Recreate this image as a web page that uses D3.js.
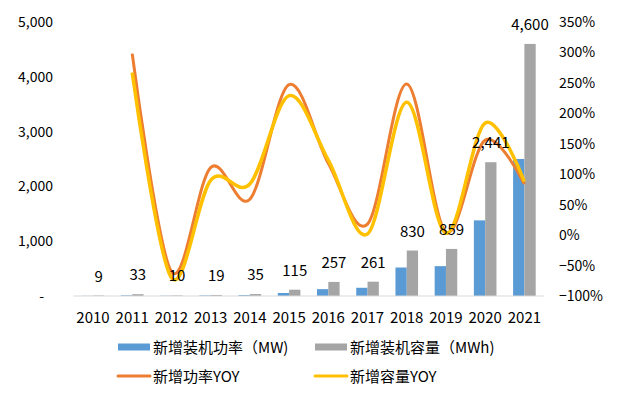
<!DOCTYPE html>
<html>
<head>
<meta charset="utf-8">
<script src="https://cdn.jsdelivr.net/npm/d3@7"></script>
<style>
  body { margin: 0; background: #fff; }
  text { font-family: "Noto Sans CJK SC", "Microsoft YaHei", sans-serif; fill: #000; }
</style>
</head>
<body>
<div class="svg-container"></div>
<script>
// values
const years = ["2010", "2011", "2012", "2013", "2014", "2015", "2016", "2017", "2018", "2019", "2020", "2021"];
const powerMW = [3, 12, 5, 10, 16, 55, 125, 150, 520, 545, 1380, 2500];
const capacityMWh = [9, 33, 10, 19, 35, 115, 257, 261, 830, 859, 2441, 4600];
const powerYoy = [null, 2.98, -0.60, 1.11, 0.59, 2.47, 1.18, 0.18, 2.48, 0.05, 1.56, 0.84];
const capacityYoy = [null, 2.67, -0.70, 0.90, 0.84, 2.29, 1.23, 0.02, 2.18, 0.03, 1.84, 0.88];
const leftTicks = [0, 1000, 2000, 3000, 4000, 5000];
const rightTicks = [-1, -0.5, 0, 0.5, 1, 1.5, 2, 2.5, 3, 3.5];
const seriesNames = ["新增装机功率（MW)", "新增装机容量（MWh)", "新增功率YOY", "新增容量YOY"];

const width = 627, height = 399;
const margin = {top: 22, bottom: 103, left: 73.4, right: 83};
const colors = {blue: "#5B9BD5", gray: "#A5A5A5", orange: "#ED7D31", yellow: "#FFC000"};

const svg = d3.select(".svg-container").append("svg")
  .attr("width", width)
  .attr("height", height);

const x = d3.scaleBand().domain(years).range([margin.left, width - margin.right]);
const y = d3.scaleLinear().domain([0, 5000]).range([height - margin.bottom, margin.top]);
const y2 = d3.scaleLinear().domain([-1, 3.5]).range([height - margin.bottom, margin.top]);
const barW = 11.3;

// bars
svg.append("g").selectAll("rect")
  .data(years)
  .join("rect")
  .attr("x", (d, i) => x(d) + x.bandwidth() / 2 - barW)
  .attr("y", (d, i) => y(powerMW[i]))
  .attr("width", barW)
  .attr("height", (d, i) => y(0) - y(powerMW[i]))
  .style("fill", colors.blue);

svg.append("g").selectAll("rect")
  .data(years)
  .join("rect")
  .attr("x", (d, i) => x(d) + x.bandwidth() / 2)
  .attr("y", (d, i) => y(capacityMWh[i]))
  .attr("width", barW)
  .attr("height", (d, i) => y(0) - y(capacityMWh[i]))
  .style("fill", colors.gray);

// baseline
svg.append("line")
  .attr("x1", margin.left).attr("x2", width - margin.right)
  .attr("y1", y(0)).attr("y2", y(0))
  .style("stroke", "#d9d9d9")
  .style("stroke-width", 1);

// left axis
svg.append("g").selectAll("text")
  .data(leftTicks)
  .join("text")
  .attr("x", d => d === 0 ? 44 : 53)
  .attr("y", d => y(d) + 5)
  .style("text-anchor", "end")
  .style("font-size", "14px")
  .text(d => d === 0 ? "-" : d3.format(",")(d));

// right axis
svg.append("g").selectAll("text")
  .data(rightTicks)
  .join("text")
  .attr("x", 559)
  .attr("y", d => y2(d) + 5)
  .style("font-size", "14px")
  .text(d => d3.format(".0%")(d));

// category labels
svg.append("g").selectAll("text")
  .data(years)
  .join("text")
  .attr("x", d => x(d) + x.bandwidth() / 2)
  .attr("y", height - margin.bottom + 27)
  .style("text-anchor", "middle")
  .style("font-size", "15px")
  .text(d => d);

// YOY lines
const line = yoy => d3.line()
  .defined(d => d != null)
  .curve(d3.curveCardinal.tension(0))
  .x((d, i) => x(years[i]) + x.bandwidth() / 2)
  .y(d => y2(d))(yoy);

svg.append("path")
  .attr("d", line(powerYoy))
  .style("stroke", colors.orange)
  .style("stroke-width", 3)
  .style("fill", "none");

svg.append("path")
  .attr("d", line(capacityYoy))
  .style("stroke", colors.yellow)
  .style("stroke-width", 3.5)
  .style("fill", "none");

// data labels above capacity bars
svg.append("g").selectAll("text")
  .data(years)
  .join("text")
  .attr("x", d => x(d) + x.bandwidth() / 2 + barW / 2)
  .attr("y", (d, i) => y(capacityMWh[i]) - 14)
  .style("text-anchor", "middle")
  .style("font-size", "15px")
  .text((d, i) => d3.format(",")(capacityMWh[i]));

// legend
const legend = [
  {name: seriesNames[0], color: colors.blue, type: "rect", lx: 118, ly: 347},
  {name: seriesNames[1], color: colors.gray, type: "rect", lx: 315, ly: 347},
  {name: seriesNames[2], color: colors.orange, type: "line", lx: 118, ly: 376},
  {name: seriesNames[3], color: colors.yellow, type: "line", lx: 315, ly: 376}
];
const lg = svg.append("g").selectAll("g")
  .data(legend)
  .join("g")
  .attr("transform", d => `translate(${d.lx},${d.ly})`);

lg.filter(d => d.type === "rect").append("rect")
  .attr("x", 0).attr("y", -3.5).attr("width", 32).attr("height", 7)
  .style("fill", d => d.color);
lg.filter(d => d.type === "line").append("line")
  .attr("x1", 0).attr("x2", 32).attr("y1", 0).attr("y2", 0)
  .style("stroke", d => d.color)
  .style("stroke-width", 3)
  .style("stroke-linecap", "round");
lg.append("text")
  .attr("x", 35)
  .attr("y", 5.5)
  .style("font-size", "15px")
  .text(d => d.name);
</script>
</body>
</html>
